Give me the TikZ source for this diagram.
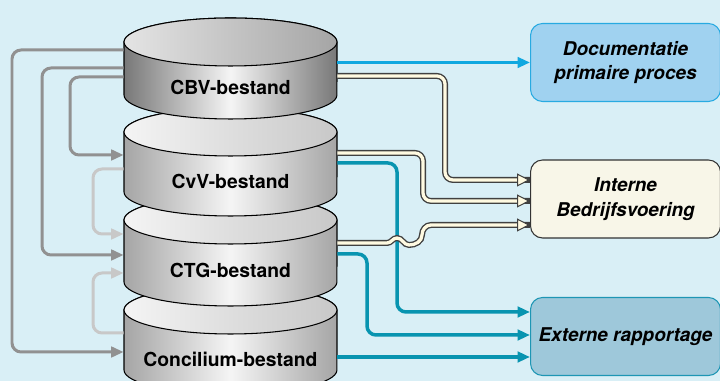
\documentclass[tikz,border=0pt]{standalone}
\usepackage{fontspec}
\setsansfont{TeX Gyre Heros}
\usetikzlibrary{arrows.meta,fit}

\definecolor{bgblue}{RGB}{217,239,246}
\definecolor{docfill}{RGB}{160,210,240}
\definecolor{docedge}{RGB}{40,170,225}
\definecolor{intfill}{RGB}{248,246,232}
\definecolor{extfill}{RGB}{158,200,218}
\definecolor{extedge}{RGB}{30,150,180}
\definecolor{docline}{RGB}{16,168,224}
\definecolor{extline}{RGB}{8,148,176}
\definecolor{feedgray}{RGB}{145,145,145}
\definecolor{lightgray}{RGB}{200,200,200}
\definecolor{cream}{RGB}{255,250,225}
\definecolor{cylgray}{RGB}{165,165,165}
\definecolor{cbvgray}{RGB}{120,120,120}
\definecolor{lidlight}{RGB}{244,244,244}
\definecolor{lidgray}{RGB}{200,200,200}
\definecolor{cbvlidl}{RGB}{228,228,228}
\definecolor{cbvlidr}{RGB}{165,165,165}

\begin{document}
\begin{tikzpicture}[x=0.02cm,y=0.02cm]

  \tikzstyle{dblabel}=[font=\sffamily\bfseries\fontsize{11}{13}\selectfont]
  \tikzstyle{box}=[rectangle,rounded corners=0.24cm,minimum width=3.8cm,
                   minimum height=1.56cm,anchor=west,align=center,line width=0.6pt,
                   font=\sffamily\bfseries\itshape\fontsize{10.8}{14}\selectfont]
  \tikzstyle{doc box}=[box,draw=docedge,fill=docfill]
  \tikzstyle{int box}=[box,draw=black!80,fill=intfill]
  \tikzstyle{ext box}=[box,draw=extedge,fill=extfill]
  \tikzstyle{feed}=[draw=feedgray,line width=0.06cm,rounded corners=0.18cm,
                    -{Triangle[length=0.25cm,width=0.21cm]}]
  \tikzstyle{light feed}=[feed,draw=lightgray]
  \tikzstyle{doc flow}=[feed,draw=docline]
  \tikzstyle{ext flow}=[feed,draw=extline,line width=0.07cm]
  \tikzstyle{int flow}=[draw=cream,line width=0.065cm,rounded corners=0.16cm,
                        preaction={draw=black!75,line width=0.12cm,-},
                        -{Triangle[length=0.26cm,width=0.26cm,fill=cream,
                                   color=black!75,line width=0.6pt]}]

  \useasboundingbox (0,0) rectangle (720,381);
  \fill[bgblue] (0,0) rectangle (720,381);
  \clip (0,0) rectangle (720,381);

  % database cylinders, lowest first so each one covers the next
  \foreach \nm/\yt/\yb/\edge/\lidl/\lidr/\txt in
    {conc/71/11/cylgray/lidlight/lidgray/Concilium-bestand,
     ctg/161/99/cylgray/lidlight/lidgray/CTG-bestand,
     cvv/249/189/cylgray/lidlight/lidgray/CvV-bestand,
     cbv/339/286/cbvgray/cbvlidl/cbvlidr/CBV-bestand}
  {
    \shadedraw[draw=black,line width=0.6pt,left color=\edge,right color=\edge,
               middle color=white!92!gray]
      (124,\yt) -- (124,\yb)
      arc[start angle=180,end angle=360,x radius=2.13cm,y radius=0.48cm]
      -- (337,\yt)
      arc[start angle=0,end angle=180,x radius=2.13cm,y radius=0.48cm] -- cycle;
    \shadedraw[draw=black,line width=0.6pt,left color=\lidl,right color=\lidr]
      (230.5,\yt) ellipse[x radius=2.13cm,y radius=0.48cm];
    \node[fit={(124,\yt) (337,\yb)},inner sep=0pt] (\nm) {};
    \node[dblabel] (\nm-txt) at (230.5,{(\yt+\yb)/2-19}) {\txt};
  }

  % targets
  \node[doc box] (doc) at (530,318.5) {Documentatie\\primaire proces};
  \node[int box] (int) at (530,182)   {Interne\\Bedrijfsvoering};
  \node[ext box] (ext) at (530,44.5)  {Externe rapportage};

  % copies between the files
  \draw[feed] (cbv.west |- 0,331) -- (12,331) -- (12,29) -- (conc.west |- 0,29);
  \draw[feed] (cbv.west |- 0,313) -- (42,313) -- (42,126) -- (ctg.west |- 0,126);
  \draw[feed] (cbv.west |- 0,304) -- (70,304) -- (70,226) -- (cvv.west |- 0,226);
  \draw[light feed] (cvv.west |- 0,212) -- (93,212) -- (93,147) -- (ctg.west |- 0,147);
  \draw[light feed] (conc.west |- 0,48) -- (93,48) -- (93,108) -- (ctg.west |- 0,108);

  % outputs
  \draw[doc flow] (cbv.east |- doc.west) -- (doc.west);
  \draw[ext flow] (cvv.east |- 0,218) -- (397,218) -- (397,69) -- (ext.west |- 0,69);
  \draw[ext flow] (ctg.east |- 0,127) -- (367,127) -- (367,46) -- (ext.west |- 0,46);
  \draw[ext flow] (conc.east |- 0,24) -- (ext.west |- 0,24);

  \draw[int flow] (cbv.east |- 0,305) -- (445,305) -- (445,201) -- (int.west |- 0,201);
  \draw[int flow] (cvv.east |- 0,228) -- (423,228) -- (423,180) -- (int.west |- 0,180);
  % jumps over the CvV line
  \draw[int flow,sharp corners] (ctg.east |- 0,138) -- (387,138)
    to[out=0,in=180] (397,143) to[out=0,in=180] (409,136)
    to[out=0,in=-90] (422,146) to[out=90,in=180] (431,156)
    -- (int.west |- 0,156);
\end{tikzpicture}
\end{document}
